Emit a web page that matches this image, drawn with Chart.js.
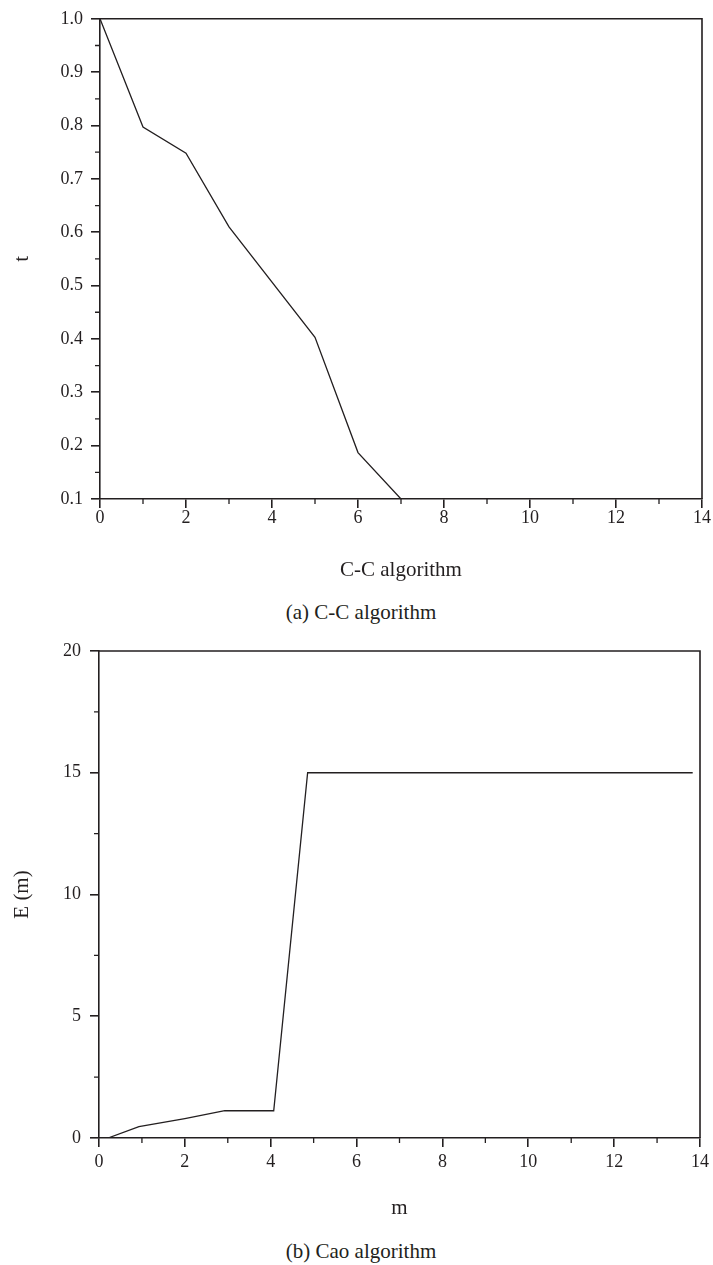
<!DOCTYPE html>
<html>
<head>
<meta charset="utf-8">
<script src="https://cdn.jsdelivr.net/npm/chart.js@4.4.1/dist/chart.umd.min.js"></script>
<style>
    body { margin: 0; background: #fff; width: 713px; height: 1265px; position: relative; overflow: hidden;
           font-family: 'Liberation Serif', serif; color: #231f20; }
    .box { position: absolute; left: 0; width: 713px; }
    .cap { position: absolute; left: 0; width: 722px; text-align: center; font-size: 21px; line-height: 24px; }
</style>
</head>
<body>
<div class="box" style="top:0;height:583px"><canvas id="cc-chart"></canvas></div>
<div class="cap" style="top:600px">(a) C-C algorithm</div>
<div class="box" style="top:620px;height:601px"><canvas id="cao-chart"></canvas></div>
<div class="cap" style="top:1239px">(b) Cao algorithm</div>
<script>
// (a) C-C algorithm
const ccX = [0, 1, 2, 3, 5, 6, 7];
const ccT = [1.0, 0.797, 0.748, 0.61, 0.403, 0.187, 0.1];

// (b) Cao algorithm
const caoM = [0.21, 0.93, 2.0, 2.93, 4.07, 4.86, 13.83];
const caoE = [0, 0.47, 0.8, 1.12, 1.12, 15.0, 15.0];

const ink = '#231f20';
const fontFamily = "'Liberation Serif', serif";

// frame on top/right + short minor ticks between the major ones
const frameAndMinor = {
    id: 'frameAndMinor',
    afterDraw(chart, args, opts) {
        const { ctx, chartArea: a, scales: { x, y } } = chart;
        ctx.save();
        ctx.strokeStyle = ink;
        ctx.lineWidth = 1.6;
        ctx.beginPath();
        ctx.moveTo(a.left, a.top);
        ctx.lineTo(a.right, a.top);
        ctx.lineTo(a.right, a.bottom);
        ctx.stroke();

        ctx.lineWidth = 1.3;
        ctx.beginPath();
        for (let v = x.min + opts.x; v < x.max; v += opts.x * 2) {
            const px = x.getPixelForValue(v);
            ctx.moveTo(px, a.bottom);
            ctx.lineTo(px, a.bottom + 5);
        }
        for (let v = y.min + opts.y; v < y.max; v += opts.y * 2) {
            const py = y.getPixelForValue(v);
            ctx.moveTo(a.left, py);
            ctx.lineTo(a.left - 5, py);
        }
        ctx.stroke();
        ctx.restore();
    }
};

function makeChart(id, xs, ys, cfg) {
    const points = xs.map((v, i) => ({ x: v, y: ys[i] }));
    return new Chart(document.getElementById(id), {
        type: 'line',
        data: {
            datasets: [{
                data: points,
                borderColor: ink,
                borderWidth: 1.3,
                pointRadius: 0,
                tension: 0,
                fill: false
            }]
        },
        options: {
            responsive: true,
            maintainAspectRatio: false,
            animation: false,
            layout: { padding: { top: cfg.padTop, right: 11, left: 0, bottom: 0 } },
            plugins: {
                legend: { display: false },
                tooltip: { enabled: false },
                frameAndMinor: { x: cfg.xMinor, y: cfg.yMinor }
            },
            scales: {
                x: {
                    type: 'linear',
                    min: 0, max: 14,
                    afterFit: s => { s.height = cfg.xHeight; },
                    ticks: {
                        stepSize: 2, color: ink, padding: cfg.xPad,
                        font: { family: fontFamily, size: 18 },
                        maxRotation: 0
                    },
                    grid: { drawOnChartArea: false, tickLength: 9, color: ink, lineWidth: 1.6 },
                    border: { color: ink, width: 1.6 },
                    title: {
                        display: true, text: cfg.xTitle, color: ink,
                        font: { family: fontFamily, size: 21 }, padding: 0
                    }
                },
                y: {
                    min: cfg.yMin, max: cfg.yMax,
                    afterFit: s => { s.width = cfg.yWidth; },
                    ticks: {
                        stepSize: cfg.yStep, color: ink, padding: cfg.yPad,
                        font: { family: fontFamily, size: 18 },
                        callback: cfg.yFmt
                    },
                    grid: { drawOnChartArea: false, tickLength: 9, color: ink, lineWidth: 1.6 },
                    border: { color: ink, width: 1.6 },
                    title: {
                        display: true, text: cfg.yTitle, color: ink,
                        font: { family: fontFamily, size: 21 }, padding: { top: 10 }
                    }
                }
            }
        },
        plugins: [frameAndMinor]
    });
}

makeChart('cc-chart', ccX, ccT, {
    padTop: 14, xHeight: 84, yWidth: 100, xPad: -1, yPad: 8,
    yMin: 0.1, yMax: 1.0, yStep: 0.1, xMinor: 1, yMinor: 0.05,
    yFmt: v => v.toFixed(1),
    xTitle: 'C-C algorithm', yTitle: 't'
});

makeChart('cao-chart', caoM, caoE, {
    padTop: 31, xHeight: 83, yWidth: 99, xPad: 4, yPad: 9,
    yMin: 0, yMax: 20, yStep: 5, xMinor: 1, yMinor: 2.5,
    yFmt: v => v,
    xTitle: 'm', yTitle: 'E (m)'
});
</script>
</body>
</html>
